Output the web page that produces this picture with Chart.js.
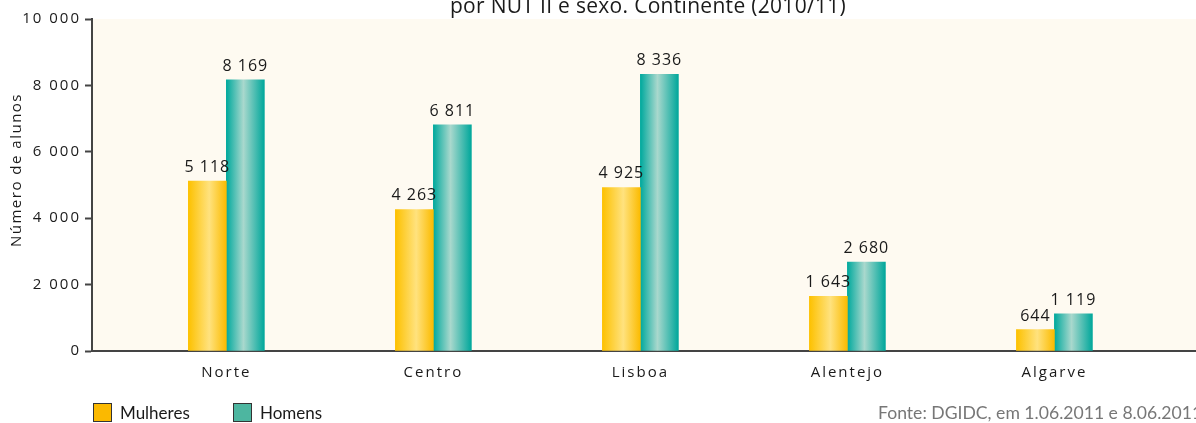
<!DOCTYPE html>
<html>
<head>
<meta charset="utf-8">
<script src="https://cdn.jsdelivr.net/npm/chart.js@4.4.1/dist/chart.umd.min.js"></script>
<style>
  body { margin: 0; background: #fff; }
  #wrap { width: 1196px; height: 423px; position: relative; }
</style>
</head>
<body>
<div id="wrap"><canvas id="alunosChart"></canvas></div>
<script>
const categories = ["Norte", "Centro", "Lisboa", "Alentejo", "Algarve"];
const mulheres = [5118, 4263, 4925, 1643, 644];
const homens = [8169, 6811, 8336, 2680, 1119];
const yTicks = [0, 2000, 4000, 6000, 8000, 10000];

const BAR_W = 38;
const yellowStops = [[0, "#fdc100"], [0.55, "#ffe27e"], [1, "#fbbb00"]];
const tealStops = [[0, "#00a99d"], [0.45, "#a9d8cd"], [1, "#00a79b"]];

function fmt(v) {
  return String(v).replace(/\B(?=(\d{3})+(?!\d))/g, " ");
}

// horizontal shine across each bar
function barGradient(c, stops, side) {
  const chart = c.chart;
  const xs = chart.scales.x;
  if (!chart.chartArea || !xs || c.dataIndex === undefined) return stops[0][1];
  const cx = xs.getPixelForValue(c.dataIndex);
  const left = side < 0 ? cx - BAR_W : cx;
  const g = chart.ctx.createLinearGradient(left, 0, left + BAR_W, 0);
  stops.forEach(s => g.addColorStop(s[0], s[1]));
  return g;
}

const extras = {
  id: "extras",
  beforeDraw(chart) {
    const { ctx, chartArea } = chart;
    ctx.save();
    ctx.fillStyle = "#fefaf1";
    ctx.fillRect(chartArea.left, chartArea.top, chartArea.right - chartArea.left, chartArea.bottom - chartArea.top);
    ctx.restore();
    ctx.letterSpacing = "2px";
  },
  afterDatasetsDraw(chart) {
    const ctx = chart.ctx;
    ctx.save();
    ctx.letterSpacing = "1px";
    ctx.font = "16px 'Open Sans'";
    ctx.fillStyle = "#1a1a1a";
    ctx.textAlign = "center";
    ctx.textBaseline = "alphabetic";
    chart.data.datasets.forEach((ds, di) => {
      chart.getDatasetMeta(di).data.forEach((bar, i) => {
        ctx.fillText(fmt(ds.data[i].y), bar.x, bar.y - 9);
      });
    });
    ctx.restore();
  },
  afterDraw(chart) {
    const ctx = chart.ctx;
    ctx.save();
    // title (cut at top in the original)
    ctx.letterSpacing = "0.3px";
    ctx.font = "21px 'Open Sans'";
    ctx.fillStyle = "#1a1a1a";
    ctx.textAlign = "center";
    ctx.textBaseline = "alphabetic";
    ctx.fillText("por NUT II e sexo. Continente (2010/11)", 648, 13);

    // y axis title
    ctx.save();
    ctx.translate(17, 170);
    ctx.rotate(-Math.PI / 2);
    ctx.letterSpacing = "1.5px";
    ctx.font = "15px 'Open Sans'";
    ctx.textBaseline = "middle";
    ctx.fillText("Número de alunos", 0, 0);
    ctx.restore();

    // legend
    ctx.letterSpacing = "0px";
    ctx.font = "17px Lato";
    ctx.textAlign = "left";
    ctx.textBaseline = "alphabetic";
    const items = [["Mulheres", "#fbb900", 93], ["Homens", "#4db6a0", 233]];
    items.forEach(([txt, col, x]) => {
      ctx.fillStyle = col;
      ctx.fillRect(x, 403, 18, 18);
      ctx.strokeStyle = "#333";
      ctx.lineWidth = 1;
      ctx.strokeRect(x + 0.5, 403.5, 18, 18);
      ctx.fillStyle = "#1a1a1a";
      ctx.fillText(txt, x + 27, 419);
    });

    // source
    ctx.font = "17.6px Lato";
    ctx.fillStyle = "#777";
    ctx.fillText("Fonte: DGIDC, em 1.06.2011 e 8.06.2011", 878, 419);
    ctx.restore();
  }
};

new Chart(document.getElementById("alunosChart"), {
  type: "bar",
  data: {
    datasets: [{
      label: "Mulheres",
      data: mulheres.map((v, i) => ({ x: i, y: v })),
      backgroundColor: c => barGradient(c, yellowStops, -1),
      barThickness: BAR_W
    }, {
      label: "Homens",
      data: homens.map((v, i) => ({ x: i, y: v })),
      backgroundColor: c => barGradient(c, tealStops, 1),
      barThickness: BAR_W
    }]
  },
  options: {
    responsive: true,
    maintainAspectRatio: false,
    animation: false,
    layout: { padding: { top: 19, bottom: 32, left: 0, right: 0 } },
    plugins: {
      legend: { display: false },
      tooltip: { enabled: false }
    },
    scales: {
      x: {
        type: "linear",
        min: -0.649,
        max: 4.684,
        offset: false,
        afterBuildTicks: s => { s.ticks = categories.map((c, i) => ({ value: i })); },
        afterFit: s => { s.height = 40; },
        grid: { display: false, drawTicks: false },
        border: { display: true, color: "#444", width: 2 },
        ticks: {
          autoSkip: false,
          maxRotation: 0,
          padding: 13,
          color: "#1a1a1a",
          font: { family: "'Open Sans'", size: 15 },
          callback: v => categories[v]
        }
      },
      y: {
        min: 0,
        max: 10000,
        afterBuildTicks: s => { s.ticks = yTicks.map(v => ({ value: v })); },
        afterFit: s => { s.width = 92; },
        grid: { drawOnChartArea: false, drawTicks: true, tickLength: 7, tickColor: "#444", tickWidth: 2 },
        border: { display: true, color: "#444", width: 2 },
        ticks: {
          padding: 4,
          color: "#1a1a1a",
          font: { family: "'Open Sans'", size: 15 },
          callback: v => fmt(v)
        }
      }
    }
  },
  plugins: [extras]
});
</script>
</body>
</html>
